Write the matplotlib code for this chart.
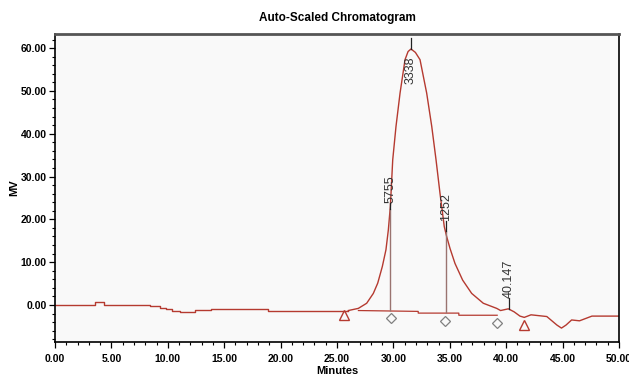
import matplotlib
matplotlib.use("Agg")
import matplotlib.pyplot as plt
from matplotlib.ticker import MultipleLocator, FormatStrFormatter

plt.rcParams['font.family'] = ['Liberation Sans', 'DejaVu Sans']

###########################################
# trace before the main peak (stepped detector drift)
step_t = [0.0, 3.55, 4.35, 8.4, 9.3, 9.85, 10.35, 11.1, 12.4, 13.8, 18.9, 26.0]
step_mv = [0.0, 0.6, 0.0, -0.3, -0.7, -1.0, -1.3, -1.6, -1.25, -0.85, -1.3, -1.3]

# main peak, small peak at 40 and the tail
trace_t = [26.0, 26.89, 27.63, 28.22, 28.61, 29.02, 29.34, 29.55, 29.73, 29.94,
           30.23, 30.59, 31.03, 31.3, 31.56, 31.95, 32.36, 32.95, 33.4, 33.78,
           34.13, 34.51, 34.72, 35.02, 35.46, 36.14, 36.94, 37.97, 39.16, 39.5,
           40.19, 40.7, 41.22, 41.6, 42.2, 43.6, 44.5, 44.9, 45.3, 45.8, 46.5,
           47.1, 47.6, 50.0]
trace_mv = [-1.3, -0.8, 0.4, 2.7, 5.1, 9.0, 12.9, 17.5, 23.0, 33.9,
            41.7, 49.5, 57.3, 59.2, 59.8, 59.0, 57.3, 49.5, 41.7, 33.9,
            26.1, 18.3, 16.0, 13.2, 9.7, 5.8, 2.7, 0.4, -0.8, -1.3,
            -0.9, -1.6, -2.6, -2.9, -2.3, -2.7, -4.7, -5.4, -4.7, -3.5, -3.7,
            -3.1, -2.6, -2.6]

# integration baseline under the peaks
base_t = [26.9, 32.2, 32.2, 35.8, 35.8, 39.2]
base_mv = [-1.3, -1.5, -1.9, -1.9, -2.4, -2.4]

# drop lines between the split peaks
drop_t = [29.73, 34.62]
drop_low = [-1.5, -1.9]
drop_high = [22.5, 17.2]

# peak start / end markers
start_t = [25.65, 41.58]
start_mv = [-2.45, -4.7]
split_t = [29.76, 34.57, 39.2]
split_mv = [-3.0, -3.7, -4.3]

# peak labels
label_text = ['5755', '3338', '1252', '40.147']
label_t = [29.73, 31.56, 34.66, 40.22]
apex_mv = [22.5, 59.8, 17.2, -0.9]
tick_top = [23.8, 62.4, 19.6, 1.6]
label_mv = [23.8, 58.0, 19.6, 1.6]
label_va = ['bottom', 'top', 'bottom', 'bottom']

###########################################
red = '#b53a30'

fig = plt.figure(figsize=(6.29, 3.8), dpi=100)
ax = fig.add_axes([55 / 629, 1 - 342 / 380, 564 / 629, 308 / 380])
ax.set_facecolor('#f9f9f9')

ax.plot(step_t, step_mv, color=red, lw=1.0, drawstyle='steps-post')
ax.plot(trace_t, trace_mv, color=red, lw=1.0)
ax.plot(base_t, base_mv, color=red, lw=0.9)
ax.vlines(drop_t, drop_low, drop_high, color='#9a7470', lw=1.0)

ax.plot(start_t, start_mv, ls='none', marker='^', ms=7, mfc='none', mec=red, mew=1.0)
ax.plot(split_t, split_mv, ls='none', marker='D', ms=5, mfc='none', mec='#808080', mew=0.9)

for txt, t, y0, y1, ly, va in zip(label_text, label_t, apex_mv, tick_top, label_mv, label_va):
    ax.plot([t, t], [y0, y1], color='#222222', lw=0.9)
    ax.text(t, ly, txt, rotation=90, ha='center', va=va, fontsize=9, color='#333333')

ax.set_xlim(0, 50)
ax.set_ylim(-8.65, 63.3)
ax.xaxis.set_major_locator(MultipleLocator(5))
ax.xaxis.set_minor_locator(MultipleLocator(1))
ax.yaxis.set_major_locator(MultipleLocator(10))
ax.yaxis.set_minor_locator(MultipleLocator(2))
ax.xaxis.set_major_formatter(FormatStrFormatter('%.2f'))
ax.yaxis.set_major_formatter(FormatStrFormatter('%.2f'))

ax.tick_params(which='major', length=4.5, width=0.9, direction='out', labelsize=7.5)
ax.tick_params(which='minor', length=2.5, width=0.8, direction='out')
ax.tick_params(axis='x', pad=4)
ax.tick_params(axis='y', pad=1.5)
for lab in ax.get_xticklabels() + ax.get_yticklabels():
    lab.set_fontweight('bold')

for side in ['left', 'bottom', 'right']:
    ax.spines[side].set_linewidth(1.2)
    ax.spines[side].set_color('black')
ax.spines['top'].set_linewidth(2.0)
ax.spines['top'].set_color('#555555')

ax.set_title('Auto-Scaled Chromatogram', fontsize=8.5, fontweight='bold', pad=9)
ax.set_xlabel('Minutes', fontsize=8, fontweight='bold')
ax.set_ylabel('MV', fontsize=8, fontweight='bold')
ax.xaxis.set_label_coords(0.5, -0.078)
ax.yaxis.set_label_coords(-0.064, 0.5)

fig.savefig('out.png', dpi=100)
